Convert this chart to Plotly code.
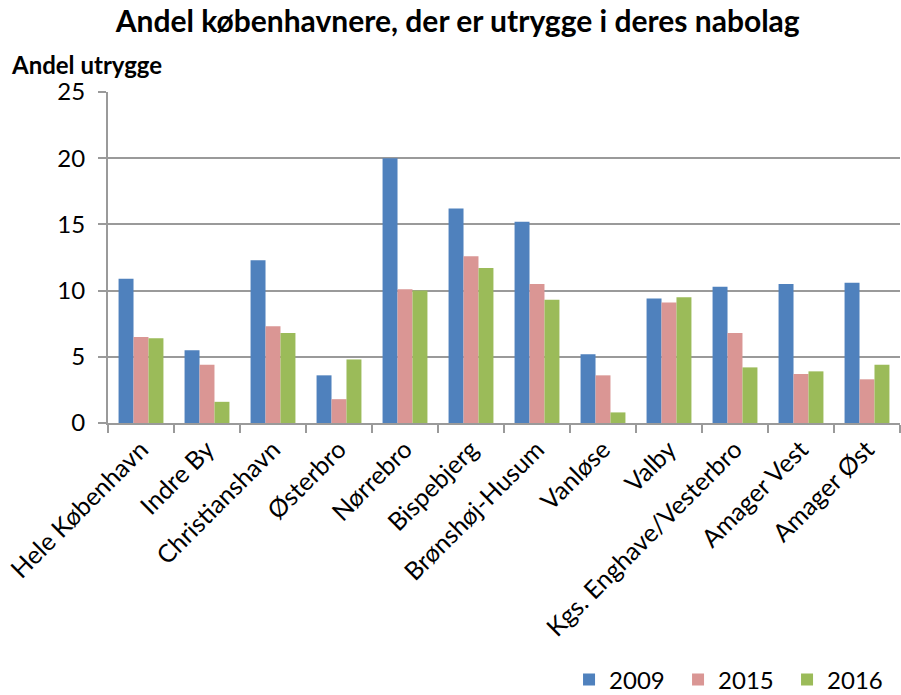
import plotly.graph_objects as go

categories = ["Hele København", "Indre By", "Christianshavn", "Østerbro", "Nørrebro",
              "Bispebjerg", "Brønshøj-Husum", "Vanløse", "Valby",
              "Kgs. Enghave/Vesterbro", "Amager Vest", "Amager Øst"]
v2009 = [10.9, 5.5, 12.3, 3.6, 20.0, 16.2, 15.2, 5.2, 9.4, 10.3, 10.5, 10.6]
v2015 = [6.5, 4.4, 7.3, 1.8, 10.1, 12.6, 10.5, 3.6, 9.1, 6.8, 3.7, 3.3]
v2016 = [6.4, 1.6, 6.8, 4.8, 10.0, 11.7, 9.3, 0.8, 9.5, 4.2, 3.9, 4.4]
series = [("2009", v2009, "#4F81BD"), ("2015", v2015, "#DA9694"), ("2016", v2016, "#9BBB59")]

font = "Lato, Open Sans, sans-serif"

fig = go.Figure()
for name, vals, col in series:
    fig.add_trace(go.Bar(x=categories, y=vals, name=name,
                         marker=dict(color=col, line=dict(width=0))))

fig.update_layout(
    width=901, height=695,
    margin=dict(l=108, r=1, t=92, b=272, autoexpand=False),
    paper_bgcolor="white", plot_bgcolor="white",
    font=dict(family=font, size=22, color="black"),
    barmode="group", bargap=0.32, bargroupgap=0,
    title=dict(text="<b>Andel københavnere, der er utrygge i deres nabolag</b>",
               x=0.508, xanchor="center", y=0.984, yanchor="top",
               font=dict(size=30, family=font)),
    showlegend=True,
    legend=dict(orientation="h", xref="paper", yref="paper",
                x=0.995, xanchor="right", y=-(680 - 423) / 331, yanchor="middle",
                font=dict(size=24), itemwidth=30, traceorder="normal",
                entrywidth=64, entrywidthmode="pixels"),
    annotations=[dict(text="<b>Andel utrygge</b>", xref="paper", yref="paper",
                      x=-108/792 + 9/792, xanchor="left", y=1.0 + 11/331, yanchor="bottom",
                      showarrow=False, font=dict(size=24, family=font))],
)
fig.update_yaxes(range=[0, 25], dtick=5, showgrid=True, gridcolor="#9A9A9A", gridwidth=2,
                 showline=True, linecolor="#9A9A9A", linewidth=2,
                 ticks="outside", ticklen=8, tickcolor="#9A9A9A", tickwidth=2,
                 ticklabelstandoff=8,
                 zeroline=False, tickfont=dict(size=24), automargin=False)
fig.update_xaxes(showline=True, linecolor="#9A9A9A", linewidth=2,
                 ticks="outside", tickson="boundaries", ticklen=8, tickcolor="#9A9A9A",
                 tickwidth=2, tickangle=-45, tickfont=dict(size=25), automargin=False)

fig.write_html("out.html", config={"displayModeBar": False},
               post_script="document.body.style.margin='0';")
